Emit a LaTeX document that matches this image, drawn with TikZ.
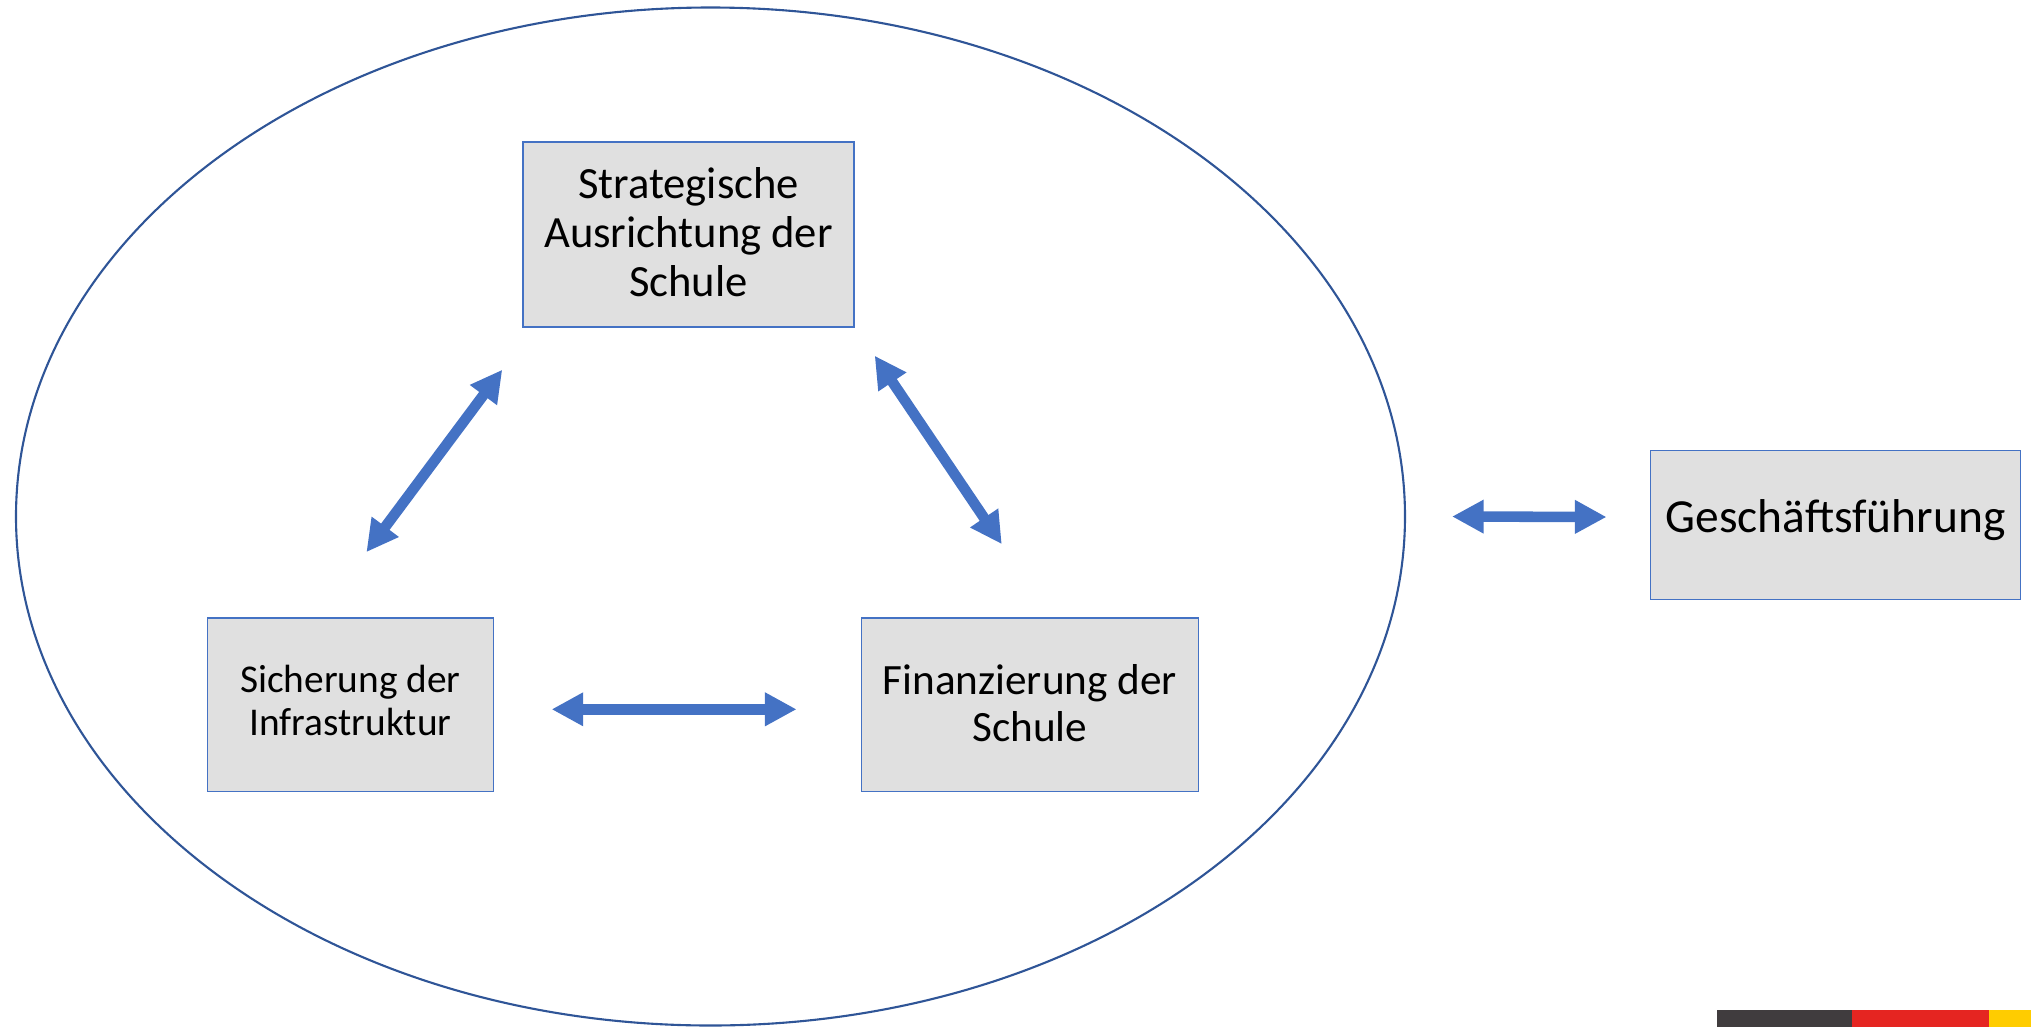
\documentclass[tikz,border=0pt]{standalone}
\usepackage{fontspec}
\setmainfont{Carlito}
\usetikzlibrary{arrows.meta,positioning,shapes.geometric}

\definecolor{rahmenblau}{HTML}{2F5597}
\definecolor{pfeilblau}{HTML}{4472C4}
\definecolor{boxgrau}{HTML}{E0E0E0}
\definecolor{flagdunkel}{HTML}{403C3E}
\definecolor{flagrot}{HTML}{E52521}
\definecolor{flaggold}{HTML}{FFCC00}

\begin{document}
\begin{tikzpicture}[>={Triangle[length=9pt,width=9pt]},node distance=6.794cm,main node/.style={rectangle,draw=pfeilblau,fill=boxgrau,line width=0.4pt,inner sep=0pt,align=center}]

  \useasboundingbox (0,0) rectangle (20.31,-10.27);

  \node[ellipse,draw=rahmenblau,line width=0.6pt,minimum width=13.89cm,minimum height=10.18cm,inner sep=0pt] (rand) at (7.105,-5.165) {};

  \node[main node,minimum width=3.31cm,minimum height=1.85cm,text depth=1.5pt,font=\fontsize{12.7pt}{13.9pt}\selectfont] (strat) at (6.885,-2.345) {Strategische\\Ausrichtung der\\Schule};
  \node[main node,minimum width=2.86cm,minimum height=1.735cm,text depth=2.2pt,font=\fontsize{11.2pt}{12.2pt}\selectfont] (sicher) at (3.504,-7.046) {Sicherung der\\Infrastruktur};
  \node[main node,minimum width=3.37cm,minimum height=1.735cm,text depth=1.1pt,font=\fontsize{12.3pt}{13.3pt}\selectfont] (finanz) [right of=sicher] {Finanzierung der\\Schule};
  \node[main node,minimum width=3.705cm,minimum height=1.49cm,text depth=5.1pt,font=\fontsize{13.5pt}{15pt}\selectfont] (gf) at (18.355,-5.252) {Geschäftsführung};

  % Pfeilenden
  \coordinate (s1) at ([xshift=0.16cm,yshift=0.65cm]sicher.north);
  \coordinate (s2) at ([xshift=-0.2cm,yshift=-0.42cm]strat.south west);
  \coordinate (f1) at ([xshift=0.2cm,yshift=-0.28cm]strat.south east);
  \coordinate (f2) at ([xshift=-0.28cm,yshift=0.73cm]finanz.north);
  \coordinate (u1) at ([xshift=0.575cm,yshift=-0.047cm]sicher.east);
  \coordinate (u2) at ([xshift=-0.64cm,yshift=-0.047cm]finanz.west);
  \coordinate (g1) at ([xshift=0.46cm]rand.east);
  \coordinate (g2) at ([xshift=-0.43cm,yshift=0.082cm]gf.west);

  \path[<->,pfeilblau,line width=3pt]
    (s1) edge[] (s2)
    (f1) edge[] (f2)
    (u1) edge[] (u2)
    (g1) edge[] (g2);

  % Streifen unten rechts
  \fill[flagdunkel] (17.17,-10.10) rectangle (18.52,-10.27);
  \fill[flagrot] (18.52,-10.10) rectangle (19.89,-10.27);
  \fill[flaggold] (19.89,-10.10) rectangle (20.31,-10.27);
\end{tikzpicture}
\end{document}
